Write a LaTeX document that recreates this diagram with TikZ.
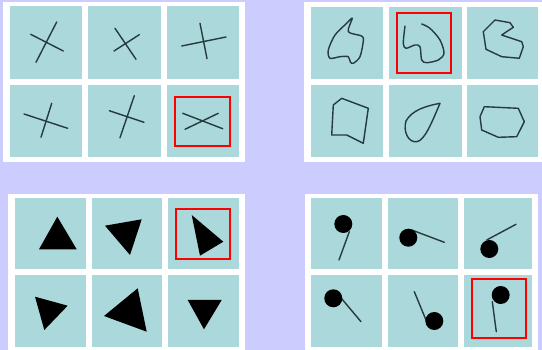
\documentclass[tikz,border=0pt]{standalone}
\usepackage{xcolor}
\usepackage{tikz}

\definecolor{lavender}{RGB}{204,204,255}
\definecolor{cellteal}{RGB}{170,216,219}
\definecolor{inkgrey}{RGB}{38,58,64}

\begin{document}
\begin{tikzpicture}[x=1pt,y=-1pt,
  cell/.style={fill=cellteal},
  ink/.style={draw=inkgrey, line width=1.4pt, line cap=round, line join=round},
  pick/.style={draw=red, line width=2pt}]
\useasboundingbox (0,0) rectangle (542,350);
\fill[lavender] (0,0) rectangle (542,350);
% ================= panel a: crosses =================
\fill[white] (3,2) rectangle (245,162);
\foreach \xa/\xb in {10/82, 88/161, 167/239}
  \foreach \ya/\yb in {6/79, 85/157}
    \fill[cell] (\xa,\ya) rectangle (\xb,\yb);
\draw[ink] (30.7,34.3) -- (63.3,51);   \draw[ink] (56.7,22) -- (36,62.3);
\draw[ink] (115,28.3) -- (136,59.3);   \draw[ink] (114,51) -- (139.3,34.7);
\draw[ink] (200,23.3) -- (207,58.7);   \draw[ink] (181.7,46) -- (226,37);
\draw[ink] (51.7,103.3) -- (41,137.3); \draw[ink] (24,114) -- (67.7,128.3);
\draw[ink] (134.3,95.7) -- (120,137.7); \draw[ink] (109.3,110.7) -- (144,122.3);
\draw[ink] (182.7,113.3) -- (222.7,128.7); \draw[ink] (185,129.3) -- (218.3,113.3);
\draw[pick] (175.3,96.7) rectangle (230,145.7);
% ================= panel b: outlines =================
\fill[white] (304,2) rectangle (542,162);
\foreach \xa/\xb in {311/383, 389/462, 467/538}
  \foreach \ya/\yb in {7/79, 85/157}
    \fill[cell] (\xa,\ya) rectangle (\xb,\yb);
% blob
\draw[ink] plot[smooth cycle, tension=0.5] coordinates {(352.3,18.3) (348.3,31.7)
  (361.7,36) (363.3,41) (360,56.7) (353.3,63.3) (350.3,62) (348.3,56.7)
  (340,56.7) (330,58.3) (328.3,50) (335,35) (346.7,23.3)};
% open curve (odd one)
\draw[ink] plot[smooth, tension=0.5] coordinates {(405,26) (403.3,43.3)
  (406,48.3) (415,45) (420,46.7) (421.7,60) (426.7,62.7) (438.3,60)
  (444,53.3) (440,40) (430,28.3) (421.7,24)};
\draw[pick] (397.3,12.7) rectangle (450.7,72.7);
% notched hexagon
\draw[ink] (483.3,31.7) -- (495,20) -- (510,22.7) -- (513.3,27.3)
  -- (501.7,35) -- (521.7,41.7) -- (523.3,46.7) -- (519.3,58.3) -- (501.7,56.7)
  -- (486,49.3) -- cycle;
% pentagon with notch
\draw[ink] (333.3,105) -- (341.7,98.3) -- (368.3,108.3) -- (363.3,143.3)
  -- (346.7,135) -- (331.7,135) -- cycle;
% drop
\draw[ink] (440,103.3) .. controls (426,106) and (412,110) .. (406,121)
  .. controls (403,131) and (408,143) .. (417,141.7)
  .. controls (425,140) and (432,122) .. (440,103.3);
% heptagon
\draw[ink] (484.3,106.7) -- (518.3,108.3) -- (524.3,121.7) -- (516.7,136.7)
  -- (498.3,137.3) -- (481.7,130) -- (480,116.7) -- cycle;
% ================= panel c: triangles =================
\fill[white] (8,194) rectangle (245,350);
\foreach \xa/\xb in {15/86, 92/162, 168/239}
  \foreach \ya/\yb in {198/269, 275/347}
    \fill[cell] (\xa,\ya) rectangle (\xb,\yb);
\fill (57.3,216.7) -- (76.7,249.3) -- (39,249.3) -- cycle;
\fill (105,225.7) -- (141.7,219.3) -- (130,255) -- cycle;
\fill (191.7,215) -- (223.3,241.7) -- (200,255.7) -- cycle;
\fill (35,296.7) -- (67.7,305.7) -- (44.3,330) -- cycle;
\fill (104,316) -- (137.7,288.3) -- (146.7,331.7) -- cycle;
\fill (187.7,300) -- (221.7,300) -- (204,329.3) -- cycle;
\draw[pick] (175.7,209.3) rectangle (230,259);
% ================= panel d: pendulums =================
\fill[white] (305,194) rectangle (538,350);
\foreach \xa/\xb in {311/382, 388/458, 464/532}
  \foreach \ya/\yb in {198/269, 275/347}
    \fill[cell] (\xa,\ya) rectangle (\xb,\yb);
\foreach \cx/\cy/\ax/\ay/\bx/\by in {343.3/224/349.3/231.7/339/260,
  408.3/237.7/411.7/230/444.3/242.3, 489.3/249/486.7/240/516/224.3,
  333.3/298.3/340/296.7/361/321.7, 434.3/321/414.3/291.7/426/320,
  500.7/295/492.3/301.7/496.3/331.7}
{
  \draw[ink] (\ax,\ay) -- (\bx,\by);
  \fill (\cx,\cy) circle (9);
}
\draw[pick] (471.7,279.3) rectangle (525.7,338.3);
\end{tikzpicture}
\end{document}
